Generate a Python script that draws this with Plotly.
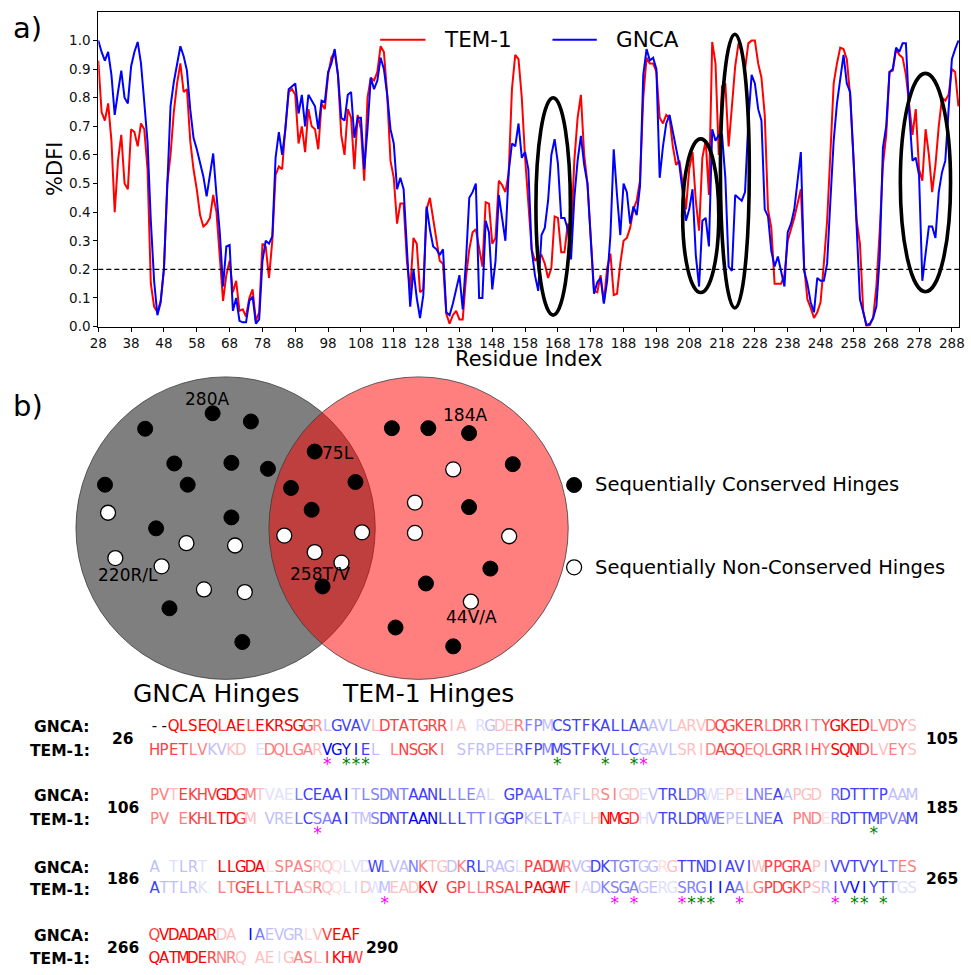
import plotly.graph_objects as go

# ---------------- panel a data ----------------
residues = list(range(28, 291))
tem1_dfi = [
    0.93, 0.75, 0.72, 0.78, 0.65, 0.40, 0.58, 0.67, 0.50, 0.48,   # 28-37
    0.69, 0.68, 0.63, 0.71, 0.69, 0.55, 0.15, 0.07, 0.05, 0.09,   # 38-47
    0.20, 0.50, 0.60, 0.75, 0.85, 0.92, 0.82, 0.83, 0.65, 0.55,   # 48-57
    0.48, 0.39, 0.35, 0.36, 0.38, 0.46, 0.40, 0.25, 0.09, 0.18,   # 58-67
    0.23, 0.12, 0.16, 0.055, 0.06, 0.035, 0.10, 0.13, 0.02, 0.05, # 68-77
    0.29, 0.28, 0.17, 0.30, 0.53, 0.56, 0.55, 0.70, 0.82, 0.83,   # 78-87
    0.81, 0.64, 0.70, 0.61, 0.76, 0.70, 0.69, 0.62, 0.78, 0.76,   # 88-97
    0.88, 0.94, 0.96, 0.88, 0.67, 0.60, 0.76, 0.73, 0.55, 0.74,   # 98-107
    0.69, 0.51, 0.80, 0.87, 0.86, 0.89, 0.98, 0.96, 0.81, 0.58,   # 108-117
    0.52, 0.36, 0.43, 0.43, 0.23, 0.125, 0.31, 0.29, 0.12, 0.13,  # 118-127
    0.41, 0.45, 0.38, 0.30, 0.23, 0.22, 0.045, 0.01, 0.04, 0.055, # 128-137
    0.025, 0.025, 0.17, 0.27, 0.33, 0.34, 0.27, 0.21, 0.435, 0.43,# 138-147
    0.29, 0.31, 0.51, 0.495, 0.47, 0.535, 0.83, 0.95, 0.935, 0.80,# 148-157
    0.59, 0.44, 0.27, 0.23, 0.245, 0.25, 0.22, 0.17, 0.205, 0.385,# 158-167
    0.38, 0.26, 0.26, 0.36, 0.32, 0.58, 0.73, 0.81, 0.60, 0.50,   # 168-177
    0.32, 0.125, 0.12, 0.18, 0.085, 0.205, 0.255, 0.11, 0.115, 0.22, # 178-187
    0.30, 0.31, 0.345, 0.41, 0.44, 0.51, 0.80, 0.94, 0.92, 0.92,  # 188-197
    0.89, 0.73, 0.71, 0.74, 0.73, 0.63, 0.565, 0.58, 0.50, 0.41,  # 198-207
    0.55, 0.61, 0.44, 0.335, 0.59, 0.65, 0.46, 0.995, 0.92, 0.60, # 208-217
    0.84, 0.85, 0.63, 0.77, 0.91, 0.99, 0.96, 0.90, 0.99, 1.00,   # 218-227
    1.00, 0.92, 0.87, 0.74, 0.41, 0.345, 0.15, 0.15, 0.15, 0.18,  # 228-237
    0.30, 0.34, 0.38, 0.43, 0.48, 0.21, 0.095, 0.065, 0.03, 0.05, # 238-247
    0.085, 0.22, 0.37, 0.605, 0.85, 0.92, 0.975, 0.97, 0.935, 0.81, # 248-257
    0.58, 0.37, 0.29, 0.055, 0.0, 0.005, 0.03, 0.14, 0.33, 0.565, # 258-267
    0.67, 0.89, 0.895, 0.97, 0.95, 0.94, 0.88, 0.78, 0.67, 0.76,  # 268-277
    0.55, 0.51, 0.69, 0.60, 0.47, 0.565, 0.70, 0.80, 0.79, 0.81,  # 278-287
    0.90, 0.89, 0.77,                                             # 288-290
]
gnca_dfi = [
    1.00, 0.96, 0.93, 0.96, 0.88, 0.74, 0.82, 0.895, 0.80, 0.78,  # 28-37
    0.91, 0.96, 0.995, 0.92, 0.785, 0.645, 0.37, 0.16, 0.04, 0.085, # 38-47
    0.205, 0.52, 0.77, 0.855, 0.92, 0.98, 0.945, 0.895, 0.76, 0.66, # 48-57
    0.62, 0.575, 0.525, 0.455, 0.525, 0.605, 0.46, 0.33, 0.14, 0.28, # 58-67
    0.285, 0.055, 0.10, 0.02, 0.015, 0.015, 0.09, 0.105, 0.01, 0.025, # 68-77
    0.23, 0.30, 0.29, 0.315, 0.59, 0.68, 0.60, 0.69, 0.83, 0.84,  # 78-87
    0.85, 0.745, 0.81, 0.70, 0.81, 0.79, 0.77, 0.69, 0.79, 0.785, # 88-97
    0.89, 0.92, 0.97, 0.88, 0.73, 0.72, 0.81, 0.82, 0.66, 0.73,   # 98-107
    0.73, 0.55, 0.69, 0.87, 0.83, 0.86, 0.94, 0.90, 0.81, 0.69,   # 108-117
    0.64, 0.48, 0.52, 0.48, 0.25, 0.07, 0.20, 0.10, 0.03, 0.11,   # 118-127
    0.42, 0.34, 0.28, 0.27, 0.25, 0.27, 0.05, 0.04, 0.08, 0.125,  # 128-137
    0.18, 0.06, 0.23, 0.45, 0.47, 0.50, 0.10, 0.10, 0.37, 0.33,   # 138-147
    0.13, 0.23, 0.46, 0.38, 0.30, 0.54, 0.64, 0.63, 0.71, 0.59,   # 148-157
    0.61, 0.55, 0.27, 0.18, 0.125, 0.32, 0.345, 0.44, 0.60, 0.655, # 158-167
    0.57, 0.38, 0.38, 0.34, 0.235, 0.45, 0.58, 0.667, 0.565, 0.50, # 168-177
    0.32, 0.115, 0.155, 0.17, 0.08, 0.16, 0.32, 0.62, 0.46, 0.32, # 178-187
    0.50, 0.47, 0.36, 0.42, 0.39, 0.49, 0.88, 0.97, 0.93, 0.94,   # 188-197
    0.90, 0.52, 0.63, 0.71, 0.74, 0.68, 0.63, 0.565, 0.47, 0.37,  # 198-207
    0.41, 0.48, 0.25, 0.14, 0.37, 0.38, 0.28, 0.69, 0.65, 0.67,   # 208-217
    0.67, 0.52, 0.21, 0.195, 0.46, 0.45, 0.44, 0.47, 0.715, 0.88, # 218-227
    0.85, 0.76, 0.72, 0.41, 0.385, 0.265, 0.21, 0.245, 0.195, 0.14, # 228-237
    0.33, 0.36, 0.41, 0.50, 0.61, 0.195, 0.15, 0.085, 0.05, 0.17, # 238-247
    0.16, 0.16, 0.22, 0.44, 0.65, 0.78, 0.87, 0.95, 0.85, 0.82,   # 248-257
    0.60, 0.32, 0.095, 0.05, 0.005, 0.01, 0.03, 0.07, 0.24, 0.625, # 258-267
    0.70, 0.89, 0.90, 0.975, 0.96, 0.99, 0.99, 0.75, 0.58, 0.59,  # 268-277
    0.53, 0.16, 0.25, 0.35, 0.35, 0.31, 0.47, 0.54, 0.58, 0.77,   # 278-287
    0.935, 0.97, 1.00,                                            # 288-290
]
hinge_threshold = 0.2
x_ticks = list(range(28, 289, 10))
y_ticks = [i / 10 for i in range(11)]

# highlighted regions (ellipses): residue span and %DFI span
ell_x0 = [161.3, 206.0, 217.5, 272.3]
ell_x1 = [171.8, 217.0, 226.3, 287.6]
ell_y0 = [0.04, 0.119, 0.065, 0.122]
ell_y1 = [0.80, 0.656, 1.022, 0.885]

# ---------------- panel b data (Venn, pixel layout units) ----------------
conserved_x = [206.8, 245.7, 138.3, 167.9, 225.9, 263.0, 97.5, 181.5, 225.9, 149.4, 163.0, 237.0,
               310.5, 351.9, 286.4, 307.4, 318.5,
               388.9, 425.9, 467.3, 511.7, 467.3, 488.9, 423.5, 392.6, 451.2]
conserved_y = [416.7, 425.0, 432.3, 467.3, 466.7, 472.7, 488.7, 488.7, 521.7, 532.7, 613.3, 647.3,
               455.3, 486.0, 492.0, 514.0, 591.3,
               431.7, 431.7, 436.7, 468.0, 511.3, 573.3, 588.3, 632.7, 651.7]
nonconserved_x = [100.6, 180.2, 229.6, 108.0, 155.0, 198.0, 239.5,
                  279.6, 358.6, 310.5, 337.7,
                  451.2, 412.3, 412.3, 508.0, 469.1]
nonconserved_y = [517.0, 547.7, 550.0, 562.7, 571.0, 594.3, 597.0,
                  540.0, 536.7, 556.7, 567.3,
                  473.3, 506.7, 537.3, 540.7, 606.7]
hinge_labels = ["280A", "184A", "75L", "220R/L", "258T/V", "44V/A"]
hinge_label_x = [201, 463, 334, 121, 316, 470]
hinge_label_y = [402, 418, 457, 580, 579, 622]

# ---------------- sequence alignment data ----------------
row_start = [26, 106, 186, 266]
row_end = [105, 185, 265, 290]
gnca_seq = [
    "--QLSEQLAELEKRSGGRLGVAVLDTATGRRIAYRGDERFPMCSTFKALLAAAVLARVDQGKERLDRRITYGKEDLVDYS",
    "PVTEKHVGDGMTVAELCEAAITLSDNTAANLLLEALSGPAALTAFLRSIGDEVTRLDRWEPELNEAAPGDARDTTTPAAM",
    "AETLRTLLLGDALSPASRQQLVDWLVANKTGDKRLRAGLPADWRVGDKTGTGGRGTTNDIAVIWPPGRAPIVVTVYLTES",
    "QVDADARDAAIAEVGRLVVEAF",
]
tem_seq = [
    "HPETLVKVKDAEDQLGARVGYIELDLNSGKILSFRPEERFPMMSTFKVLLCGAVLSRIDAGQEQLGRRIHYSQNDLVEYS",
    "PVTEKHLTDGMTVRELCSAAITMSDNTAANLLLTTIGGPKELTAFLHNMGDHVTRLDRWEPELNEAIPNDERDTTMPVAM",
    "ATTLRKLLTGELLTLASRQQLIDWMEADKVAGPLLRSALPAGWFIADKSGAGERGSRGIIAALGPDGKPSRIVVIYTTGS",
    "QATMDERNRQIAEIGASLIKHW",
]
# per-letter shade: 0 = blue, 4 = white, 8 = red, b/r = very faint blue/red, k = black
gnca_shade = [
    "kk" "888887887888887" "6311125" "7777777" "554b3556" "2231111111112333" "5556777776777667888866665",
    "6657777887" "65bbb21111" "0322222111" "12223b4112" "2223335665" "5b311122bb" "5r22213555" "4211111333",
    "34b33b4888" "88r666655r" "bbb1233265" "53611333b7" "7776331122" "233r511111" "1115777775" "3111111266",
    "7888888554" "023333r578" "88",
]
tem_shade = [
    "7777663355" "4b66666500" "0013467777" "6433333321" "1211111122" "1333355567" "7766677767" "6888765665",
    "6646777887" "5433321221" "0332111000" "1112222113" "322bbb5888" "7b31111122" "3322214666" "r211112221",
    "13333b4667" "776666565r" "bb5b355588" "4776677778" "88885b3222" "233bb22200" "1256777765" "31100112bb",
    "8888887665" "455b566578" "87",
]
magenta_stars = [[19, 52], [18], [25, 49, 51, 56, 62, 72]]
green_stars = [[21, 22, 23, 43, 48, 51], [76], [57, 58, 59, 74, 75, 77]]

# ---------------- layout constants (pixels) ----------------
W, H = 971, 975
FONT = "DejaVu Sans"
ax_left, ax_right, ax_top, ax_bottom = 90.7, 965.0, 12.0, 329.3
seq_x0, seq_pitch = 147.8, 9.74
gnca_row_y = [733, 803, 875, 944]
tem_row_y = [757, 827, 897, 967]
num_row_y = [745, 815, 886, 956]
star_row_y = [772, 842, 912]

SHADE_VALUE = {"b": 0.44, "r": 0.56}


def bwr(code):
    if code == "k":
        return "rgb(0,0,0)"
    v = SHADE_VALUE[code] if code in SHADE_VALUE else int(code) / 8.0
    if v < 0.5:
        t = round(2 * v * 255)
        return f"rgb({t},{t},255)"
    t = round(2 * (1 - v) * 255)
    return f"rgb(255,{t},{t})"


fig = go.Figure()

# panel a lines
fig.add_trace(go.Scatter(x=residues, y=tem1_dfi, mode="lines", name="TEM-1",
                         line=dict(color="#ff0000", width=2), xaxis="x", yaxis="y",
                         showlegend=False, hoverinfo="skip"))
fig.add_trace(go.Scatter(x=residues, y=gnca_dfi, mode="lines", name="GNCA",
                         line=dict(color="#0000ff", width=2), xaxis="x", yaxis="y",
                         showlegend=False, hoverinfo="skip"))

shapes = []
shapes.append(dict(type="line", xref="x domain", yref="y", x0=0, x1=1,
                   y0=hinge_threshold, y1=hinge_threshold,
                   line=dict(color="black", width=1.3, dash="5px,3px")))
for a, b, c, d in zip(ell_x0, ell_x1, ell_y0, ell_y1):
    shapes.append(dict(type="circle", xref="x", yref="y", x0=a, x1=b, y0=c, y1=d,
                       line=dict(color="black", width=3.6), layer="above"))

# manual legend (pixel units on overlay axes)
for (lx0, lx1, col) in [(377, 423, "#ff0000"), (552, 597, "#0000ff")]:
    shapes.append(dict(type="line", xref="x2", yref="y2", x0=lx0, x1=lx1, y0=40, y1=40,
                       line=dict(color=col, width=2)))

# Venn circles
shapes.append(dict(type="circle", xref="x2", yref="y2", x0=68, x1=372, y0=380, y1=685,
                   fillcolor="rgba(0,0,0,0.5)", line=dict(color="rgba(60,60,60,0.8)", width=1),
                   layer="below"))
shapes.append(dict(type="circle", xref="x2", yref="y2", x0=264, x1=568, y0=380, y1=685,
                   fillcolor="rgba(255,0,0,0.5)", line=dict(color="rgba(60,60,60,0.8)", width=1),
                   layer="below"))

annotations = []


def ann(x, y, text, size, xanchor="center", color="black", bold=False, angle=0):
    t = f"<b>{text}</b>" if bold else text
    annotations.append(dict(x=x, y=y, xref="x2", yref="y2", text=t, showarrow=False,
                            xanchor=xanchor, yanchor="middle", textangle=angle,
                            font=dict(family=FONT, size=size, color=color)))


ann(440, 40, "TEM-1", 21.5, xanchor="left")
ann(614, 40, "GNCA", 21.5, xanchor="left")
ann(2, 28, "a)", 29, xanchor="left")
ann(2, 409, "b)", 29, xanchor="left")
ann(46, 170, "%DFI", 21, angle=-90)
ann(528, 362, "Residue Index", 21)

# Venn texts
for t, x, y in zip(hinge_labels, hinge_label_x, hinge_label_y):
    ann(x, y, t, 17)
ann(210, 699, "GNCA Hinges", 25)
ann(426, 699, "TEM-1 Hinges", 25)
ann(593, 489, "Sequentially Conserved Hinges", 19.5, xanchor="left")
ann(593, 572, "Sequentially Non-Conserved Hinges", 19.5, xanchor="left")

# Venn dots
fig.add_trace(go.Scatter(x=conserved_x + [574], y=conserved_y + [489], mode="markers",
                         marker=dict(size=15, color="black", line=dict(color="black", width=1)),
                         xaxis="x2", yaxis="y2", showlegend=False, hoverinfo="skip"))
fig.add_trace(go.Scatter(x=nonconserved_x + [574], y=nonconserved_y + [572], mode="markers",
                         marker=dict(size=15, color="white", line=dict(color="black", width=1.3)),
                         xaxis="x2", yaxis="y2", showlegend=False, hoverinfo="skip"))

# sequence alignment letters
sx, sy, st, sc = [], [], [], []
for r in range(4):
    for seq, shade, yy in [(gnca_seq[r], gnca_shade[r], gnca_row_y[r]),
                           (tem_seq[r], tem_shade[r], tem_row_y[r])]:
        for k, (ch, code) in enumerate(zip(seq, shade)):
            sx.append(seq_x0 + k * seq_pitch)
            sy.append(yy)
            st.append(ch)
            sc.append(bwr(code))
fig.add_trace(go.Scatter(x=sx, y=sy, text=st, mode="text", textposition="middle center",
                         textfont=dict(family=FONT, size=15, color=sc),
                         xaxis="x2", yaxis="y2", showlegend=False, hoverinfo="skip",
                         cliponaxis=False))

# conservation stars
for stars, col in [(magenta_stars, "#ff00ff"), (green_stars, "#008000")]:
    xs, ys = [], []
    for r, lst in enumerate(stars):
        for k in lst:
            xs.append(seq_x0 + (k - 1) * seq_pitch)
            ys.append(star_row_y[r])
    fig.add_trace(go.Scatter(x=xs, y=ys, text=["*"] * len(xs), mode="text",
                             textposition="middle center",
                             textfont=dict(family=FONT, size=17, color=col),
                             xaxis="x2", yaxis="y2", showlegend=False, hoverinfo="skip",
                             cliponaxis=False))

# row labels and numbers
for r in range(4):
    ann(84, gnca_row_y[r], "GNCA:", 15.5, xanchor="right", bold=True)
    ann(84, tem_row_y[r], "TEM-1:", 15.5, xanchor="right", bold=True)
    ann(116, num_row_y[r], str(row_start[r]), 15.5, bold=True)
    if r < 3:
        ann(948, num_row_y[r], str(row_end[r]), 15.5, bold=True)
    else:
        ann(379, num_row_y[r], str(row_end[r]), 15.5, bold=True)

fig.update_layout(
    width=W, height=H, autosize=False,
    margin=dict(l=0, r=0, t=0, b=0),
    paper_bgcolor="white", plot_bgcolor="rgba(0,0,0,0)",
    showlegend=False,
    font=dict(family=FONT, color="black"),
    xaxis=dict(domain=[ax_left / W, ax_right / W], range=[28, 290.2], anchor="y",
               tickmode="array", tickvals=x_ticks, ticktext=[str(v) for v in x_ticks],
               ticks="outside", ticklen=4, tickwidth=1, tickcolor="black",
               showline=True, linecolor="black", linewidth=1, mirror=True,
               showgrid=False, zeroline=False,
               tickfont=dict(family=FONT, size=13.5, color="#111")),
    yaxis=dict(domain=[1 - ax_bottom / H, 1 - ax_top / H], range=[0, 1.1], anchor="x",
               tickmode="array", tickvals=y_ticks, ticktext=[f"{v:.1f}" for v in y_ticks],
               ticks="outside", ticklen=4, tickwidth=1, tickcolor="black",
               showline=True, linecolor="black", linewidth=1, mirror=True,
               showgrid=False, zeroline=False,
               tickfont=dict(family=FONT, size=13.5, color="#111")),
    xaxis2=dict(domain=[0, 1], range=[0, W], anchor="y2", visible=False, fixedrange=True),
    yaxis2=dict(domain=[0, 1], range=[H, 0], anchor="x2", visible=False, fixedrange=True),
    shapes=shapes,
    annotations=annotations,
)

fig.write_html("out.html",
               config={"displayModeBar": False},
               post_script="document.body.style.margin='0';"
                           "document.documentElement.style.overflow='hidden';")
